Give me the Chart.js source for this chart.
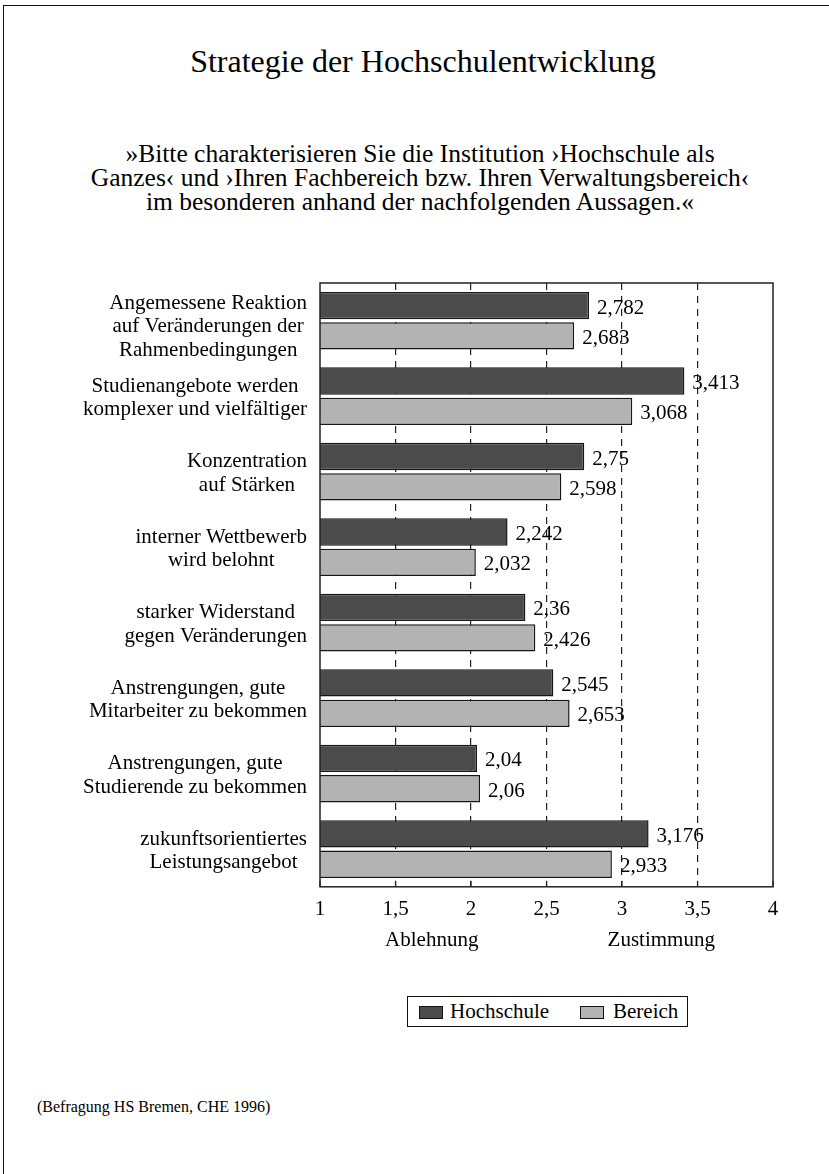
<!DOCTYPE html>
<html>
<head>
<meta charset="utf-8">
<script src="https://cdn.jsdelivr.net/npm/chart.js@4/dist/chart.umd.min.js"></script>
<style>
  html, body { margin: 0; padding: 0; background: #fff; }
  body { width: 829px; height: 1174px; position: relative; overflow: hidden; font-family: "Liberation Serif", "DejaVu Serif", serif; color: #000; }
  .frame { position: absolute; left: 3px; top: 5px; right: -10px; bottom: -10px; border-top: 1.5px solid #111; border-left: 1.5px solid #111; }
  .title { position: absolute; left: 0; width: 846px; top: 43px; text-align: center; font-size: 32px; line-height: 36px; }
  .subtitle { position: absolute; left: 0; width: 840px; top: 142px; text-align: center; font-size: 25.5px; line-height: 24px; }
  .foot { position: absolute; left: 37px; top: 1097px; font-size: 16px; line-height: 20px; }
  #wrap { position: absolute; left: 0; top: 260px; width: 829px; height: 700px; }
  .legend { position: absolute; left: 407px; top: 996px; width: 279px; height: 29px; border: 1.5px solid #111; font-size: 21px; }
  .legend .sw { position: absolute; top: 9px; width: 22px; height: 11px; border: 1.5px solid #111; }
  .legend .tx { position: absolute; top: 2px; line-height: 24px; }
</style>
</head>
<body>
<div class="frame"></div>
<div class="title">Strategie der Hochschulentwicklung</div>
<div class="subtitle">»Bitte charakterisieren Sie die Institution ›Hochschule als<br>Ganzes‹ und ›Ihren Fachbereich bzw. Ihren Verwaltungsbereich‹<br>im besonderen anhand der nachfolgenden Aussagen.«</div>
<div id="wrap"><canvas id="c"></canvas></div>
<div class="legend" id="legend"></div>
<div class="foot">(Befragung HS Bremen, CHE 1996)</div>
<script>
const categories = [
  ['Angemessene Reaktion', 'auf Veränderungen der', 'Rahmenbedingungen'],
  ['Studienangebote werden', 'komplexer und vielfältiger'],
  ['Konzentration', 'auf Stärken'],
  ['interner Wettbewerb', 'wird belohnt'],
  ['starker Widerstand', 'gegen Veränderungen'],
  ['Anstrengungen, gute', 'Mitarbeiter zu bekommen'],
  ['Anstrengungen, gute', 'Studierende zu bekommen'],
  ['zukunftsorientiertes', 'Leistungsangebot']
];
const seriesNames = ['Hochschule', 'Bereich'];
const hochschule = [2.782, 3.413, 2.75, 2.242, 2.36, 2.545, 2.04, 3.176];
const bereich = [2.683, 3.068, 2.598, 2.032, 2.426, 2.653, 2.06, 2.933];
const tickLabels = ['1', '1,5', '2', '2,5', '3', '3,5', '4'];
const axisNotes = ['Ablehnung', 'Zustimmung'];

const FONT = '"Liberation Serif", "Times New Roman", serif';
const colors = ['#4b4b4b', '#b3b3b3'];
const edge = '#161616';

const fmt = v => String(v).replace('.', ',');

const decor = {
  id: 'decor',
  afterDatasetsDraw(chart) {
    const ctx = chart.ctx;
    const a = chart.chartArea;
    const xs = chart.scales.x, ys = chart.scales.y;
    ctx.save();
    // plot frame
    ctx.strokeStyle = '#222';
    ctx.lineWidth = 1.5;
    ctx.setLineDash([]);
    ctx.strokeRect(a.left, a.top, a.right - a.left, a.bottom - a.top);
    // inner ticks on bottom axis
    ctx.lineWidth = 1.2;
    for (let i = 0; i < tickLabels.length; i++) {
      const px = xs.getPixelForValue(1 + i * 0.5);
      ctx.beginPath();
      ctx.moveTo(px, a.bottom);
      ctx.lineTo(px, a.bottom - 6);
      ctx.stroke();
    }
    // value labels
    ctx.fillStyle = '#000';
    ctx.font = '21px ' + FONT;
    ctx.textAlign = 'left';
    ctx.textBaseline = 'middle';
    chart.data.datasets.forEach((ds, di) => {
      const meta = chart.getDatasetMeta(di);
      meta.data.forEach((el, i) => {
        ctx.fillText(fmt(ds.data[i]), el.x + 8, el.y + 2.5);
      });
    });
    // category labels (each group centered, widest line flush right)
    ctx.textAlign = 'center';
    const lh = 23.5;
    categories.forEach((lines, i) => {
      const cy = ys.getPixelForValue(i) + (lines.length > 2 ? 6 : 2);
      let w = 0;
      lines.forEach(t => { w = Math.max(w, ctx.measureText(t).width); });
      const cx = a.left - 13 - w / 2;
      lines.forEach((t, k) => {
        ctx.fillText(t, cx, cy + (k - (lines.length - 1) / 2) * lh);
      });
    });
    // axis notes
    ctx.textBaseline = 'alphabetic';
    ctx.fillText(axisNotes[0], xs.getPixelForValue(1.74), a.bottom + 59);
    ctx.fillText(axisNotes[1], xs.getPixelForValue(3.26), a.bottom + 59);
    ctx.restore();
  }
};

new Chart(document.getElementById('c'), {
  type: 'bar',
  data: {
    labels: categories,
    datasets: [
      { label: seriesNames[0], data: hochschule, backgroundColor: colors[0], borderColor: edge, borderWidth: 1.5, borderSkipped: false },
      { label: seriesNames[1], data: bereich, backgroundColor: colors[1], borderColor: edge, borderWidth: 1.5, borderSkipped: false }
    ]
  },
  options: {
    indexAxis: 'y',
    responsive: true,
    maintainAspectRatio: false,
    animation: false,
    devicePixelRatio: 1,
    categoryPercentage: 0.805,
    barPercentage: 0.9,
    layout: { padding: { left: 320, right: 56, top: 23, bottom: 28 } },
    plugins: { legend: { display: false }, tooltip: { enabled: false } },
    scales: {
      x: {
        min: 1, max: 4,
        ticks: {
          stepSize: 0.5,
          padding: 10,
          color: '#000',
          font: { family: FONT, size: 21 },
          callback: (v, i) => tickLabels[i]
        },
        grid: {
          drawTicks: false,
          lineWidth: 1.2,
          color: c => (c.tick && (c.tick.value === 1 || c.tick.value === 4)) ? 'rgba(0,0,0,0)' : '#222'
        },
        border: { display: false, dash: [7, 6] }
      },
      y: {
        display: false,
        grid: { display: false }
      }
    }
  },
  plugins: [decor]
});

// legend built from the dataset names
const lg = document.getElementById('legend');
const pos = [[11, 42], [172, 205]];
seriesNames.forEach((n, i) => {
  const sw = document.createElement('div');
  sw.className = 'sw';
  sw.style.left = pos[i][0] + 'px';
  sw.style.background = colors[i];
  lg.appendChild(sw);
  const tx = document.createElement('div');
  tx.className = 'tx';
  tx.style.left = pos[i][1] + 'px';
  tx.textContent = n;
  lg.appendChild(tx);
});
</script>
</body>
</html>
